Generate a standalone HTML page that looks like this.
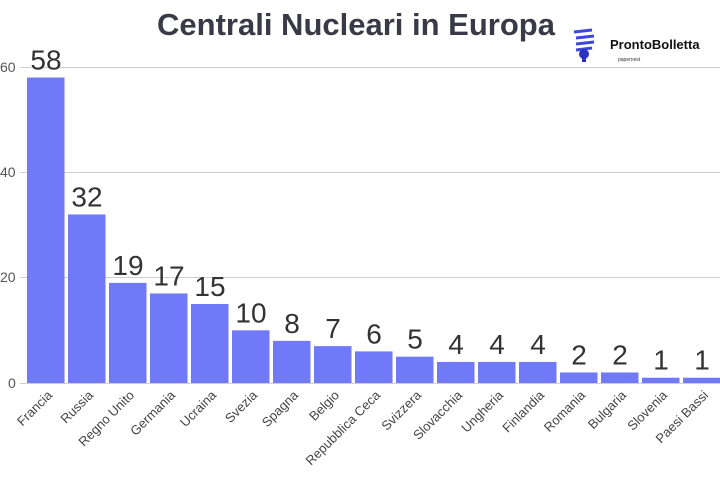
<!DOCTYPE html>
<html><head><style>body{margin:0;background:#fff}svg{display:block}</style></head><body>
<svg width="720" height="480" xmlns="http://www.w3.org/2000/svg" font-family="'Liberation Sans',sans-serif">
<rect width="720" height="480" fill="#fff"/>
<text x="356" y="35" text-anchor="middle" font-size="31" font-weight="bold" fill="#3a3a46">Centrali Nucleari in Europa</text>
<g stroke="#cfcfcf" stroke-width="1">
<line x1="20" y1="67.5" x2="720" y2="67.5"/><line x1="20" y1="172.5" x2="720" y2="172.5"/><line x1="20" y1="277.5" x2="720" y2="277.5"/><line x1="20" y1="383.5" x2="720" y2="383.5"/>
</g>
<g font-size="14" fill="#555" text-anchor="start">
<text x="0" y="72">60</text><text x="0" y="177">40</text><text x="0" y="282">20</text><text x="8" y="388">0</text>
</g>
<g transform="translate(572,30)">
<path d="M2 2 L20 0 M4 8 L22 6 M4 14 L22 12 M4 20 L20 18" stroke="#3d47d9" stroke-width="3" fill="none"/>
<circle cx="12" cy="24" r="5" fill="#2a33c0"/><rect x="10" y="27" width="4" height="5" fill="#2a33c0"/>
</g>
<text x="610" y="49" font-size="13" font-weight="bold" fill="#111">ProntoBolletta</text>
<text x="618" y="61" font-size="5" fill="#333">papernest</text>
<g id="bars" fill="#7079f7"></g>
<g id="vals" font-size="28" fill="#333" text-anchor="middle"></g>
<g id="labs" font-size="13" fill="#444" text-anchor="end"></g>
<script>
var d=[["Francia",58],["Russia",32],["Regno Unito",19],["Germania",17],["Ucraina",15],["Svezia",10],["Spagna",8],["Belgio",7],["Repubblica Ceca",6],["Svizzera",5],["Slovacchia",4],["Ungheria",4],["Finlandia",4],["Romania",2],["Bulgaria",2],["Slovenia",1],["Paesi Bassi",1]];
var ns="http://www.w3.org/2000/svg",b=document.getElementById("bars"),v=document.getElementById("vals"),l=document.getElementById("labs");
d.forEach(function(e,i){var x=27+i*41,h=e[1]*5.267,y=383-h;
var r=document.createElementNS(ns,"rect");r.setAttribute("x",x);r.setAttribute("y",y);r.setAttribute("width",37.5);r.setAttribute("height",h);b.appendChild(r);
var t=document.createElementNS(ns,"text");t.setAttribute("x",x+19);t.setAttribute("y",y-8);t.textContent=e[1];v.appendChild(t);
var c=x+19+7,t2=document.createElementNS(ns,"text");t2.setAttribute("transform","translate("+c+",396) rotate(-45)");t2.textContent=e[0];l.appendChild(t2);});
</script>
</svg>
</body></html>
